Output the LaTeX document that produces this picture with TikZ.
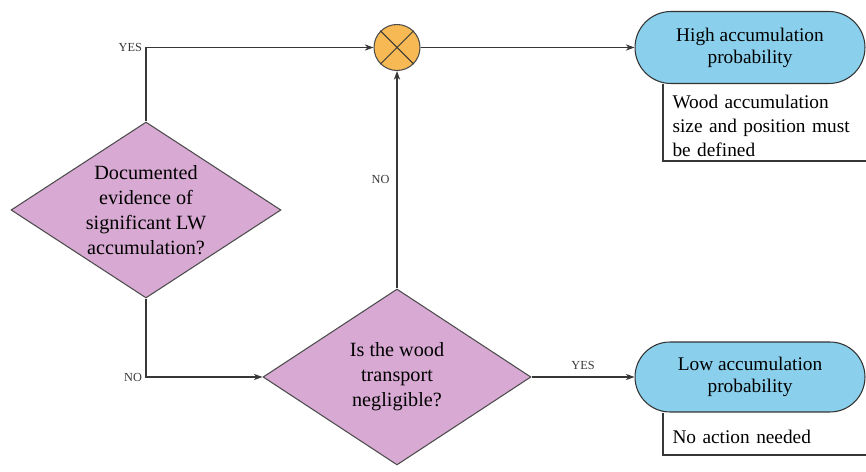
\documentclass[tikz,border=0pt]{standalone}
\usepackage{fontspec}
\setmainfont{Liberation Serif}
\usetikzlibrary{arrows.meta}
\usetikzlibrary{shapes.geometric, shapes.misc}
\usetikzlibrary{positioning}
\definecolor{lwpink}{RGB}{215,169,211}
\definecolor{lworange}{RGB}{246,185,83}
\definecolor{lwblue}{RGB}{138,208,236}
\definecolor{lwline}{RGB}{55,55,55}

\begin{document}
\begin{tikzpicture}[x=0.02cm,y=-0.02cm,>={Stealth[length=5pt,width=3.6pt]},semithick,text=black]
 \tikzstyle{decision node}=[diamond,draw=black!70,fill=lwpink,align=center,inner sep=-2mm,aspect=1.53,font=\fontsize{11.5}{14.2}\selectfont]
 \tikzstyle{merge node}=[circle,draw=black!70,fill=lworange,minimum size=0.92cm,inner sep=0]
 \tikzset{
 	outcome node/.style={rounded rectangle,draw=black!80,fill=lwblue,align=center,minimum width=4.6cm,minimum height=1.44cm,inner sep=0,font=\fontsize{11}{12.6}\selectfont},
 	note node/.style={align=left,text width=3.7cm,inner xsep=0.18cm,inner ysep=2pt,font=\fontsize{11}{13.6}\selectfont},
 	answer/.style={font=\fontsize{7}{8}\selectfont,inner sep=2pt}
 }
 \useasboundingbox (0,0) rectangle (866,472);

       \node[decision node,minimum width=5.4cm,minimum height=3.52cm] (doc) at (146,210) {Documented\\evidence of\\significant LW\\accumulation?};
       \node[decision node,minimum width=5.36cm,minimum height=3.52cm] (transp) at (397,377) {Is the wood\\transport\\negligible?};
       \node[merge node] (mix) at (397,47.5) {};
       \node[outcome node] (high) at (750,47.5) {High accumulation\\probability};
       \node[outcome node,minimum height=1.4cm] (low) at (750,377) {Low accumulation\\probability};
       \node[note node,anchor=south west] (highnote) at (663,161) {Wood accumulation\\size and position must\\be defined};
       \node[note node,anchor=south west,inner ysep=6pt] (lownote) at (663,455) {No action needed};

     % cross in the merge circle
     \draw[lwline] (mix.north west) -- (mix.south east);
     \draw[lwline] (mix.north east) -- (mix.south west);

     % note boxes
     \draw[lwline] (highnote.south west |- high.south) |- (highnote.south east);
     \draw[lwline] (lownote.south west |- low.south) |- (lownote.south east);

     \draw[->,lwline] (doc.north) |- node[answer,left,pos=0.5] {YES} (mix.west);
     \draw[->,lwline] (doc.south) |- node[answer,left,pos=0.5] {NO} (transp.west);
     \path[->,lwline] (transp.north) edge node[answer,left,inner sep=4pt] {NO} (mix.south);
     \path[->,lwline] (mix.east) edge node {} (high.west);
     \path[->,lwline] (transp.east) edge node[answer,above,inner sep=4pt] {YES} (low.west);
 \end{tikzpicture}
\end{document}
